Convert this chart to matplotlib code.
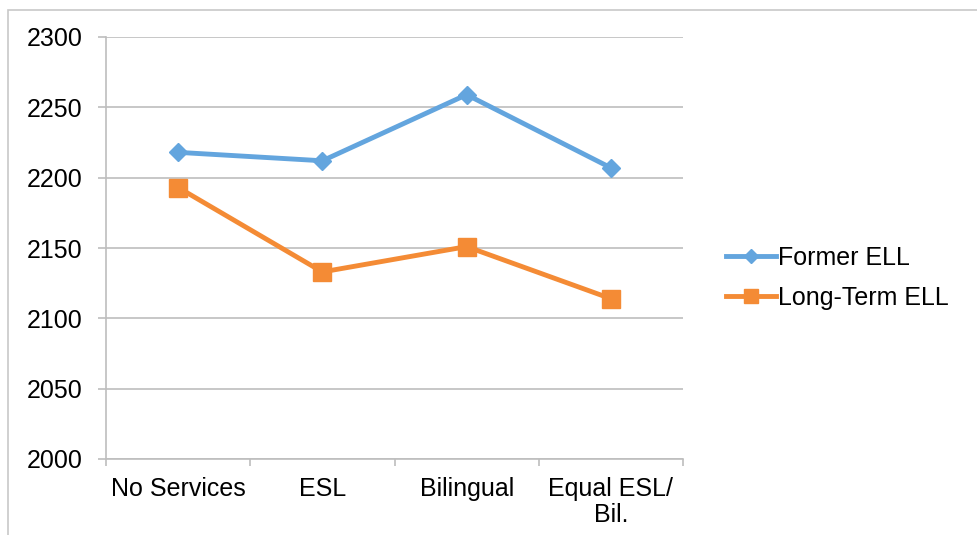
import matplotlib
matplotlib.use("Agg")
import matplotlib.pyplot as plt
from matplotlib.patches import Rectangle

categories = ["No Services", "ESL", "Bilingual", "Equal ESL/\nBil."]
former_ell = [2218, 2212, 2259, 2207]
long_term_ell = [2193, 2133, 2151, 2114]
y_ticks = [2000, 2050, 2100, 2150, 2200, 2250, 2300]

blue = "#63A5DE"
orange = "#F48B35"
grid_gray = "#BEBEBE"
fs = 18

plt.rcParams["font.family"] = ["Liberation Sans", "DejaVu Sans"]

fig = plt.figure(figsize=(9.77, 5.35), dpi=100)
ax = fig.add_axes([106 / 977, 1 - 459 / 535, (683 - 106) / 977, (459 - 37) / 535])

x = list(range(len(categories)))
ax.plot(x, former_ell, color=blue, lw=3.5, marker="D", ms=9,
        markerfacecolor=blue, markeredgecolor=blue, label="Former ELL",
        solid_joinstyle="round", zorder=3)
ax.plot(x, long_term_ell, color=orange, lw=3.5, marker="s", ms=13,
        markerfacecolor=orange, markeredgecolor=orange, label="Long-Term ELL",
        solid_joinstyle="round", zorder=3)

ax.set_ylim(2000, 2300)
ax.set_yticks(y_ticks)
ax.set_xlim(-0.5, len(categories) - 0.5)
ax.set_xticks(x)
ax.set_xticklabels(categories, ha="center", linespacing=1.1)
ax.set_xticks([i - 0.5 for i in range(len(categories) + 1)], minor=True)

ax.yaxis.grid(True, color=grid_gray, lw=1.2)
ax.set_axisbelow(True)
for side in ("top", "right"):
    ax.spines[side].set_visible(False)
for side in ("left", "bottom"):
    ax.spines[side].set_color(grid_gray)
    ax.spines[side].set_linewidth(1.2)

ax.tick_params(axis="y", length=6, width=1.2, color=grid_gray, pad=11,
               labelsize=fs, labelcolor="black")
ax.tick_params(axis="x", which="major", length=0, pad=13, labelsize=fs,
               labelcolor="black")
ax.tick_params(axis="x", which="minor", length=5, width=1.2, color=grid_gray)

ax.legend(loc="center left", bbox_to_anchor=(703 / 977, 1 - 278 / 535),
          bbox_transform=fig.transFigure, frameon=False, fontsize=fs,
          handlelength=2.0, handletextpad=0.12, labelspacing=0.65,
          markerscale=0.75)

fig.patches.append(Rectangle((8 / 977, -0.05), 1.1, 1.05 - 10 / 535,
                             transform=fig.transFigure, fill=False,
                             edgecolor="#C8C8C8", lw=1.2))

fig.savefig("out.png", dpi=100)
